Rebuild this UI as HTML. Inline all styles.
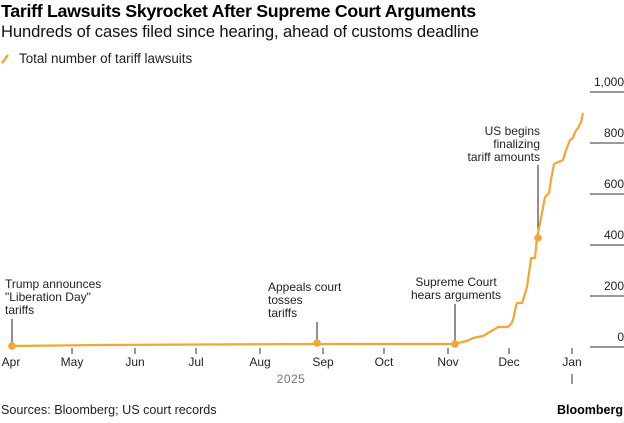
<!DOCTYPE html>
<html><head><meta charset="utf-8"><style>
body{margin:0;background:#fff;width:624px;height:418px;overflow:hidden;font-family:"Liberation Sans",sans-serif;}
</style></head><body>
<svg width="624" height="418" xmlns="http://www.w3.org/2000/svg" font-family="Liberation Sans, sans-serif">
<text x="1" y="17" font-size="17.8" font-weight="bold" fill="#000" letter-spacing="-0.3">Tariff Lawsuits Skyrocket After Supreme Court Arguments</text>
<text x="1" y="37" font-size="16.6" fill="#111" letter-spacing="-0.1">Hundreds of cases filed since hearing, ahead of customs deadline</text>
<line x1="2" y1="63" x2="8" y2="55" stroke="#f5a533" stroke-width="2.5"/>
<text x="19" y="63" font-size="13.4" fill="#222">Total number of tariff lawsuits</text>
<g stroke="#333" stroke-width="1">
<line x1="590" y1="92" x2="624" y2="92"/><line x1="590" y1="143" x2="624" y2="143"/>
<line x1="590" y1="194" x2="624" y2="194"/><line x1="590" y1="245" x2="624" y2="245"/>
<line x1="590" y1="296" x2="624" y2="296"/><line x1="590" y1="347" x2="624" y2="347"/>
</g>
<g font-size="12" fill="#222" text-anchor="end">
<text x="624" y="86">1,000</text><text x="624" y="137">800</text><text x="624" y="188">600</text>
<text x="624" y="239">400</text><text x="624" y="290">200</text><text x="624" y="341">0</text>
</g>
<g stroke="#333" stroke-width="1">
<line x1="72" y1="348" x2="72" y2="354"/><line x1="135" y1="348" x2="135" y2="354"/>
<line x1="196" y1="348" x2="196" y2="354"/><line x1="260" y1="348" x2="260" y2="354"/>
<line x1="323" y1="348" x2="323" y2="354"/><line x1="384" y1="348" x2="384" y2="354"/>
<line x1="448" y1="348" x2="448" y2="354"/><line x1="509" y1="348" x2="509" y2="354"/>
<line x1="572" y1="348" x2="572" y2="354"/><line x1="572" y1="374" x2="572" y2="384"/>
</g>
<g font-size="12" fill="#222" text-anchor="middle">
<text x="11" y="366">Apr</text><text x="72" y="366">May</text><text x="135" y="366">Jun</text>
<text x="196" y="366">Jul</text><text x="260" y="366">Aug</text><text x="323" y="366">Sep</text>
<text x="384" y="366">Oct</text><text x="448" y="366">Nov</text><text x="509" y="366">Dec</text>
<text x="572" y="366">Jan</text>
</g>
<text x="291" y="383" font-size="12" fill="#777" text-anchor="middle" letter-spacing="0.5">2025</text>
<g stroke="#222" stroke-width="1">
<line x1="12" y1="319" x2="12" y2="346"/><line x1="317" y1="322" x2="317" y2="343"/>
<line x1="455" y1="304" x2="455" y2="344"/><line x1="538" y1="165" x2="538" y2="238"/>
</g>
<polyline fill="none" stroke="#f5a533" stroke-width="2.2" stroke-linejoin="round" points="12,346 100,345 200,344.5 317,344 455,344 462,342 467,341 473,338 483,336 488,333 495,329 498,327 508,327 511,324 513,320 516,306 517,303 522,303 524,297 527,287 530,266 531,258 535,258 537,238 541,218 545,197 549,193 551,180 554,164 563,160 566,150 570,140 573,138 575,132 578,128 581,122 583,113"/>
<g fill="#f5a533">
<circle cx="12" cy="346" r="3.8"/><circle cx="317" cy="343" r="3.8"/>
<circle cx="455" cy="344" r="3.8"/><circle cx="538" cy="238" r="3.8"/>
</g>
<g font-size="12" fill="#222">
<text x="5" y="288">Trump announces</text><text x="5" y="301">"Liberation Day"</text><text x="5" y="314">tariffs</text>
<text x="268" y="291">Appeals court</text><text x="268" y="304">tosses</text><text x="268" y="317">tariffs</text>
<text x="456" y="286" text-anchor="middle">Supreme Court</text><text x="456" y="299" text-anchor="middle">hears arguments</text>
<text x="540" y="135" text-anchor="end">US begins</text><text x="540" y="148" text-anchor="end">finalizing</text><text x="540" y="161" text-anchor="end">tariff amounts</text>
</g>
<text x="1" y="414" font-size="12.6" fill="#222">Sources: Bloomberg; US court records</text>
<text x="623" y="414" font-size="12.5" font-weight="bold" fill="#000" text-anchor="end">Bloomberg</text>
</svg>
</body></html>
